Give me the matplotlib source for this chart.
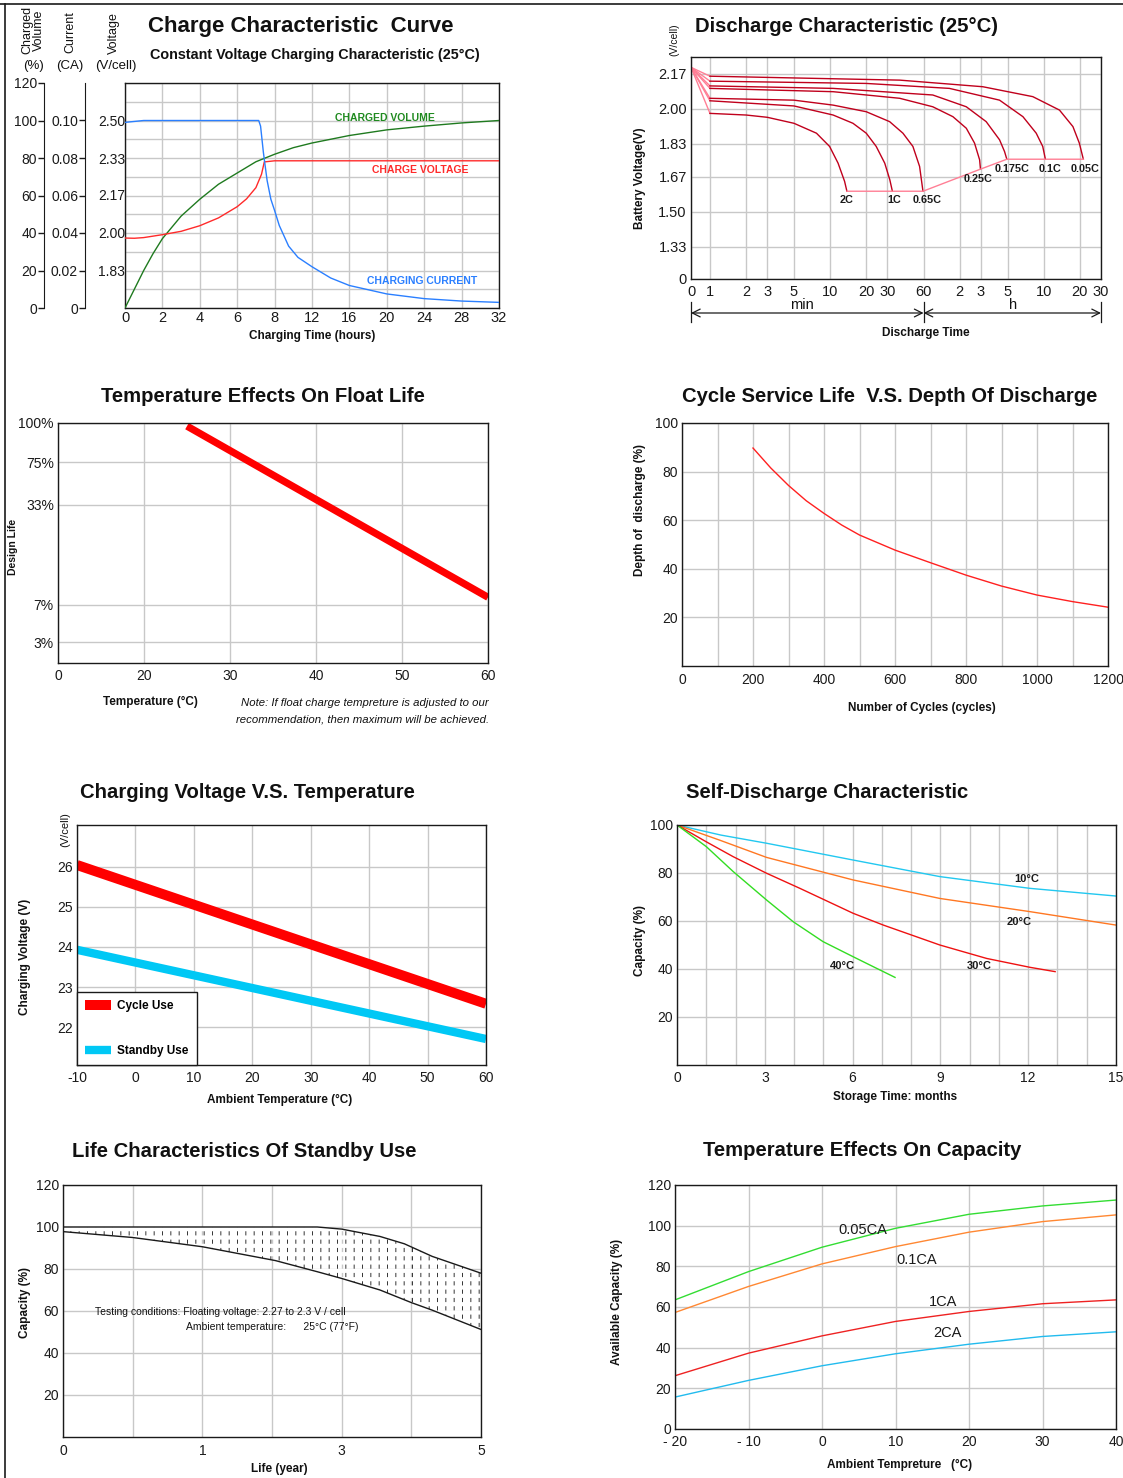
import numpy as np
import matplotlib
matplotlib.use('Agg')
import matplotlib.pyplot as plt
from matplotlib.lines import Line2D

W, H = 1123, 1478
FONTS = ['Liberation Sans', 'DejaVu Sans']
plt.rcParams['font.family'] = FONTS
plt.rcParams['axes.unicode_minus'] = False
plt.rcParams['hatch.linewidth'] = 0.7

# ---------------- data ----------------
# 1. Charge characteristic
charge_hour_ticks = [0, 2, 4, 6, 8, 12, 16, 20, 24, 28, 32]
vol_hours = [0, 0.5, 1, 1.5, 2, 3, 4, 5, 6, 7, 8, 10, 12, 16, 20, 24, 28, 32]
vol_pct = [0, 10, 20, 29, 37, 49, 58, 66, 72, 78, 82, 85.5, 88, 92, 95, 97, 98.7, 100]
volt_hours = [0, 0.5, 1, 2, 3, 4, 5, 6, 6.5, 7, 7.3, 7.45, 8, 32]
volts = [1.975, 1.974, 1.977, 1.99, 2.005, 2.03, 2.065, 2.115, 2.15, 2.2, 2.26, 2.315, 2.32, 2.32]
curr_hours = [0, 1, 7.15, 7.25, 7.4, 7.6, 7.8, 8, 8.5, 9.5, 10.5, 12, 14, 16, 20, 24, 28, 32]
current = [0.099, 0.1, 0.1, 0.097, 0.083, 0.068, 0.058, 0.052, 0.044, 0.033, 0.027, 0.022,
           0.016, 0.012, 0.0075, 0.005, 0.0037, 0.003]
pct_ticks = [0, 20, 40, 60, 80, 100, 120]
ca_ticks = [0, 0.02, 0.04, 0.06, 0.08, 0.10]
ca_labels = ['0', '0.02', '0.04', '0.06', '0.08', '0.10']
volt_ticks = [1.83, 2.00, 2.17, 2.33, 2.50]

# 2. Discharge characteristic (time in minutes)
rates = ['2C', '1C', '0.65C', '0.25C', '0.175C', '0.1C', '0.05C']
t_2C = [0, 1, 2, 3, 5, 7.7, 9.9, 11.65, 13.2, 13.8]
v_2C = [2.20, 1.977, 1.969, 1.958, 1.929, 1.881, 1.817, 1.736, 1.648, 1.60]
t_1C = [0, 1, 5, 10.6, 15.5, 20, 24.2, 28.5, 31.4, 33]
v_1C = [2.20, 2.038, 2.013, 1.969, 1.929, 1.881, 1.817, 1.736, 1.656, 1.60]
t_065C = [0, 1, 5, 10.6, 20, 31.3, 40.4, 48.9, 55.6, 59.3]
v_065C = [2.20, 2.05, 2.041, 2.017, 1.985, 1.937, 1.881, 1.817, 1.72, 1.60]
t_025C = [0, 1, 10.6, 38, 71.6, 105.3, 136.1, 159.4, 175.7, 178.6]
v_025C = [2.20, 2.098, 2.082, 2.05, 2.009, 1.961, 1.905, 1.833, 1.752, 1.707]
t_0175C = [0, 1, 10.6, 71.6, 136.1, 199.2, 257.5, 283.4, 296]
v_0175C = [2.20, 2.11, 2.098, 2.066, 2.009, 1.937, 1.849, 1.792, 1.755]
t_01C = [0, 1, 20, 98.5, 257.5, 403, 520, 589, 620]
v_01C = [2.20, 2.133, 2.122, 2.098, 2.041, 1.961, 1.881, 1.817, 1.755]
t_005C = [0, 1, 38, 187, 487, 812, 1051, 1188, 1283]
v_005C = [2.20, 2.157, 2.138, 2.106, 2.058, 1.993, 1.913, 1.833, 1.755]
dis_time_ticks = [0, 1, 2, 3, 5, 10, 20, 30, 60, 120, 180, 300, 600, 1200, 1800]
dis_time_labels = ['0', '1', '2', '3', '5', '10', '20', '30', '60', '2', '3', '5', '10', '20', '30']
dis_volt_ticks = [1.175, 1.33, 1.50, 1.67, 1.83, 2.00, 2.17]
dis_volt_labels = ['0', '1.33', '1.50', '1.67', '1.83', '2.00', '2.17']

# 3. Float life vs temperature
float_temp = [25, 60]
float_life = [98, 9]
float_temp_ticks = [10, 20, 30, 40, 50, 60]
float_temp_labels = ['0', '20', '30', '40', '50', '60']
float_life_ticks = [3, 7, 33, 75, 100]
float_life_labels = ['3%', '7%', '33%', '75%', '100%']

# 4. Cycle life vs DOD
cycles = [200, 250, 300, 350, 400, 450, 500, 600, 700, 800, 900, 1000, 1100, 1200]
dod = [89.7, 81.5, 74.3, 68, 62.8, 58, 53.9, 47.7, 42.5, 37.4, 32.9, 29.2, 26.5, 24.2]

# 5. Charging voltage vs temperature
cv_temp = [-10, 60]
cycle_use = [26.05, 22.58]
standby_use = [23.93, 21.70]

# 6. Self-discharge
m_10 = [0, 1.5, 3.06, 6.02, 8.98, 12.06, 15]
c_10 = [100, 95.8, 92.4, 85.4, 78.5, 73.6, 70.4]
m_20 = [0, 1.5, 3.06, 6.02, 8.98, 12.06, 15]
c_20 = [100, 93.5, 86.5, 77.1, 69.4, 63.9, 58.3]
m_30 = [0, 1.0, 1.92, 3.06, 4.2, 6.02, 7.05, 8.98, 10.58, 12.06, 12.92]
c_30 = [100, 93, 86.8, 79.9, 73.6, 63.2, 58.3, 50, 44.4, 40.7, 38.9]
m_40 = [0, 1.0, 1.92, 3.06, 3.97, 4.99, 6.02, 6.7, 7.45]
c_40 = [100, 91, 80.6, 68.75, 59.7, 51.4, 45.1, 41, 36.5]

# 7. Standby life
upper_years = [0, 2.65, 3.0, 3.55, 3.9, 4.3, 5]
upper_cap = [100, 100, 99, 95.5, 92, 86, 78]
lower_years = [0, 0.5, 1, 2.05, 2.65, 3.0, 3.55, 4.0, 4.3, 5]
lower_cap = [97.8, 95, 90.6, 84, 78.7, 75.5, 70, 64, 60.4, 51.2]
life_year_ticks = [0, 1, 3, 5]

# 8. Temperature effects on capacity
cap_temp = [-20, -10, 0, 10, 20, 30, 40]
cap_005CA = [63.5, 77.4, 89.4, 98.7, 105.6, 109.7, 112.6]
cap_01CA = [57.3, 70.1, 81.2, 89.7, 96.8, 102, 105.3]
cap_1CA = [26.2, 37.3, 45.8, 52.9, 57.8, 61.6, 63.5]
cap_2CA = [15.7, 23.9, 31.1, 37, 41.7, 45.5, 47.8]
cap_temp_labels = ['- 20', '- 10', '0', '10', '20', '30', '40']

# ---------------- figure ----------------
fig = plt.figure(figsize=(W / 100, H / 100), dpi=100)
fig.patch.set_facecolor('white')

def axes_px(x0, y0, x1, y1):
    return fig.add_axes([x0 / W, 1 - y1 / H, (x1 - x0) / W, (y1 - y0) / H])

def text_px(x, y, s, **kw):
    kw.setdefault('color', '#111111')
    return fig.text(x / W, 1 - y / H, s, **kw)

GRID = '#c8c8c8'
TICKFS = 10
LABFS = 8.5
TITLEFS = 14.6
INK = '#1a1a1a'

def base(ax):
    for sp in ax.spines.values():
        sp.set_linewidth(1.0)
        sp.set_color(INK)
    ax.tick_params(which='both', length=0, labelsize=TICKFS, pad=3, colors=INK)
    ax.grid(True, which='both', color=GRID, lw=1.0)
    ax.set_axisbelow(True)

def title(x, y, s, ha='center', size=TITLEFS):
    text_px(x, y, s, ha=ha, va='baseline', fontsize=size, fontweight='bold')

def xlab(x, y, s, size=LABFS):
    text_px(x, y, s, ha='center', va='center', fontsize=size, fontweight='bold')

def ylab(x, y, s, size=LABFS):
    text_px(x, y, s, ha='center', va='center', fontsize=size, fontweight='bold', rotation=90)

# frame
fig.add_artist(Line2D([5 / W, 5 / W], [0, 1 - 4 / H], color=INK, lw=1.2, transform=fig.transFigure))
fig.add_artist(Line2D([0, 1], [1 - 4 / H, 1 - 4 / H], color=INK, lw=1.2, transform=fig.transFigure))

# ===== Panel 1: Charge characteristic =====
def f_hours(h):
    h = np.asarray(h, float)
    return np.where(h <= 8, h / 2, 4 + (h - 8) / 4)

def i_hours(p):
    p = np.asarray(p, float)
    return np.where(p <= 4, 2 * p, 8 + 4 * (p - 4))

V_PER_PCT = 0.1675 / 20
V_LO = 1.83 - 20 * V_PER_PCT
V_HI = 1.83 + 100 * V_PER_PCT

ax1 = axes_px(125, 83, 499, 308)
base(ax1)
ax1.set_xscale('function', functions=(f_hours, i_hours))
ax1.set_xlim(0, 32)
ax1.set_xticks(charge_hour_ticks)
ax1.set_xticklabels([str(h) for h in charge_hour_ticks])
ax1.set_ylim(0, 120)
ax1.set_yticks(np.arange(0, 121, 10))
ax1.tick_params(axis='y', labelleft=False)
ax1.tick_params(axis='x', pad=2, labelsize=10.5)
ax1.plot(vol_hours, vol_pct, color='#1f7a1f', lw=1.0, zorder=3)

axV = ax1.twinx()
axV.set_ylim(V_LO, V_HI)
for sp in axV.spines.values():
    sp.set_visible(False)
axV.yaxis.tick_left()
axV.set_yticks(volt_ticks)
axV.set_yticklabels(['%.2f' % v for v in volt_ticks])
axV.tick_params(length=0, pad=0, labelsize=TICKFS, colors=INK)
axV.plot(volt_hours, volts, color='#ff2a2a', lw=1.0)

axC = ax1.twinx()
axC.set_ylim(0, 0.12)
for k, sp in axC.spines.items():
    sp.set_visible(k == 'left')
axC.spines['left'].set_position(('axes', (85 - 125) / 374))
axC.spines['left'].set_color(INK)
axC.yaxis.tick_left()
axC.set_yticks(ca_ticks)
axC.set_yticklabels(ca_labels)
axC.tick_params(direction='out', length=4, width=1, pad=1, labelsize=TICKFS, colors=INK)
axC.plot(curr_hours, current, color='#2a7fff', lw=1.0)

axP = ax1.twinx()
axP.set_ylim(0, 120)
for k, sp in axP.spines.items():
    sp.set_visible(k == 'left')
axP.spines['left'].set_position(('axes', (44 - 125) / 374))
axP.spines['left'].set_color(INK)
axP.yaxis.tick_left()
axP.set_yticks(pct_ticks)
axP.tick_params(direction='out', length=4, width=1, pad=1, labelsize=TICKFS, colors=INK)

text_px(385, 118, 'CHARGED VOLUME', color='#1f8a1f', fontsize=7.5, fontweight='bold', ha='center', va='center')
text_px(420, 170, 'CHARGE VOLTAGE', color='#ff2a2a', fontsize=7.5, fontweight='bold', ha='center', va='center')
text_px(422, 281, 'CHARGING CURRENT', color='#2a7fff', fontsize=7.5, fontweight='bold', ha='center', va='center')

text_px(33, 30, 'Charged\nVolume', rotation=90, fontsize=9, ha='center', va='center', linespacing=0.95)
text_px(33, 66, '(%)', fontsize=9.5, ha='center', va='center')
text_px(70, 32, 'Current', rotation=90, fontsize=9, ha='center', va='center')
text_px(70, 66, '(CA)', fontsize=9.5, ha='center', va='center')
text_px(114, 33, 'Voltage', rotation=90, fontsize=9, ha='center', va='center')
text_px(116, 66, '(V/cell)', fontsize=9.5, ha='center', va='center')

title(148, 32, 'Charge Characteristic  Curve', ha='left', size=16)
title(150, 59, 'Constant Voltage Charging Characteristic (25°C)', ha='left', size=10.4)
xlab(312, 336, 'Charging Time (hours)')

# ===== Panel 2: Discharge characteristic =====
def f_time(t):
    t = np.asarray(t, float)
    return np.where(t >= 1, np.log10(np.maximum(t, 1.0)), 0.158 * (t - 1))

def i_time(p):
    p = np.asarray(p, float)
    return np.where(p >= 0, 10 ** np.maximum(p, 0), p / 0.158 + 1)

ax2 = axes_px(691, 57, 1101, 279)
base(ax2)
ax2.set_xscale('function', functions=(f_time, i_time))
ax2.set_xlim(0, 1800)
ax2.set_ylim(1.175, 2.25)
ax2.set_xticks(dis_time_ticks)
ax2.set_xticklabels(dis_time_labels)
ax2.set_yticks(dis_volt_ticks)
ax2.set_yticklabels(dis_volt_labels)
ax2.tick_params(axis='x', pad=4, labelsize=10.5)
ax2.tick_params(axis='y', labelsize=10.5)

DARK = '#c0001c'
PINK = '#ff7f95'
series = [(t_2C, v_2C), (t_1C, v_1C), (t_065C, v_065C), (t_025C, v_025C),
          (t_0175C, v_0175C), (t_01C, v_01C), (t_005C, v_005C)]
ends_t, ends_v = [], []
for (t, v) in series:
    ax2.plot(t[:2], v[:2], color=PINK, lw=1.0)
    ax2.plot(t[1:], v[1:], color=DARK, lw=1.0)
    ends_t.append(t[-1])
    ends_v.append(v[-1])
ax2.plot(ends_t, ends_v, color=PINK, lw=1.0)
label_off = [(0, -6.5), (1.5, -6.5), (3, -6.5), (-2, -7), (3.5, -7), (3.5, -7), (1.5, -7)]
for name, et, ev, off in zip(rates, ends_t, ends_v, label_off):
    ax2.annotate(name, (et, ev), xytext=off, textcoords='offset points', ha='center', va='center',
                 fontsize=7.8, fontweight='bold', color=INK)

# time-range arrows
xt = ax2.get_xaxis_transform()
ya = (279 - 313) / (279 - 57)
yb0 = (279 - 302) / (279 - 57)
yb1 = (279 - 322) / (279 - 57)
ax2.annotate('', xy=(0, ya), xytext=(60, ya), xycoords=xt, textcoords=xt,
             arrowprops=dict(arrowstyle='<->', lw=0.9, color=INK, shrinkA=0, shrinkB=0,
                             mutation_scale=14), annotation_clip=False)
ax2.annotate('', xy=(60, ya), xytext=(1800, ya), xycoords=xt, textcoords=xt,
             arrowprops=dict(arrowstyle='<->', lw=0.9, color=INK, shrinkA=0, shrinkB=0,
                             mutation_scale=14), annotation_clip=False)
for tt in (0, 60, 1800):
    ax2.plot([tt, tt], [yb0, yb1], transform=xt, color=INK, lw=0.9, clip_on=False)
text_px(802, 305, 'min', fontsize=10.5, ha='center', va='center')
text_px(1013, 305, 'h', fontsize=10.5, ha='center', va='center')
xlab(926, 333, 'Discharge Time')
ylab(640, 178, 'Battery Voltage(V)')
text_px(674, 40, '(V/cell)', rotation=90, fontsize=7.5, ha='center', va='center')
title(695, 32, 'Discharge Characteristic (25°C)', ha='left')

# ===== Panel 3: Float life =====
LIFE_V = [0, 3, 7, 33, 75, 100]
LIFE_P = [0, 21, 58, 158, 201, 240]

def f_life(v):
    return np.interp(np.asarray(v, float), LIFE_V, LIFE_P)

def i_life(p):
    return np.interp(np.asarray(p, float), LIFE_P, LIFE_V)

ax3 = axes_px(58, 423, 488, 663)
base(ax3)
ax3.set_yscale('function', functions=(f_life, i_life))
ax3.set_xlim(10, 60)
ax3.set_ylim(0, 100)
ax3.set_xticks(float_temp_ticks)
ax3.set_xticklabels(float_temp_labels)
ax3.set_yticks(float_life_ticks)
ax3.set_yticklabels(float_life_labels)
ax3.tick_params(axis='x', pad=4)
ax3.plot(float_temp, float_life, color='#ff0000', lw=5.2, solid_capstyle='butt')
title(263, 402, 'Temperature Effects On Float Life')
ylab(13, 547, 'Design Life', size=7.5)
xlab(150, 702, 'Temperature (°C)')
text_px(489, 703, 'Note: If float charge tempreture is adjusted to our', fontsize=8.2, style='italic',
        ha='right', va='center')
text_px(489, 719, 'recommendation, then maximum will be achieved.', fontsize=8.2, style='italic',
        ha='right', va='center')

# ===== Panel 4: Cycle life =====
ax4 = axes_px(682, 423, 1108, 666)
base(ax4)
ax4.set_xlim(0, 1200)
ax4.set_ylim(0, 100)
ax4.set_xticks(np.arange(0, 1201, 200))
ax4.set_xticks(np.arange(100, 1200, 200), minor=True)
ax4.set_yticks([20, 40, 60, 80, 100])
ax4.tick_params(axis='x', pad=5)
ax4.plot(cycles, dod, color='#ff2020', lw=1.0)
title(890, 402, 'Cycle Service Life  V.S. Depth Of Discharge')
ylab(640, 510, 'Depth of  discharge (%)')
xlab(922, 708, 'Number of Cycles (cycles)')

# ===== Panel 5: Charging voltage vs temperature =====
ax5 = axes_px(77, 825, 486, 1065)
base(ax5)
ax5.set_xlim(-10, 60)
ax5.set_ylim(21.05, 27.05)
ax5.set_xticks(np.arange(-10, 61, 10))
ax5.set_yticks([22, 23, 24, 25, 26])
ax5.set_yticklabels(['22', '23', '24', '25', '26'])
ax5.tick_params(axis='x', pad=4)
l_cyc, = ax5.plot(cv_temp, cycle_use, color='#ff0000', lw=7.2, solid_capstyle='butt', label='Cycle Use')
l_sby, = ax5.plot(cv_temp, standby_use, color='#00c8f5', lw=6.0, solid_capstyle='butt', label='Standby Use')
leg = ax5.legend(handles=[l_cyc, l_sby], loc='lower left', bbox_to_anchor=(0, 0), borderaxespad=0,
                 fancybox=False, framealpha=1, edgecolor=INK, prop={'size': 8.5, 'weight': 'bold'},
                 handlelength=2.2, handletextpad=0.5, labelspacing=2.75, borderpad=0.7)
leg.get_frame().set_linewidth(1.0)
title(247, 798, 'Charging Voltage V.S. Temperature')
text_px(65, 830, '(V/cell)', rotation=90, fontsize=8, ha='center', va='center')
ylab(25, 957, 'Charging Voltage (V)')
xlab(280, 1100, 'Ambient Temperature (°C)')

# ===== Panel 6: Self-discharge =====
ax6 = axes_px(677, 825, 1116, 1065)
base(ax6)
ax6.set_xlim(0, 15)
ax6.set_ylim(0, 100)
ax6.set_xticks([0, 3, 6, 9, 12, 15])
ax6.set_xticks([m for m in range(16) if m % 3], minor=True)
ax6.set_yticks([20, 40, 60, 80, 100])
ax6.tick_params(axis='x', pad=4)
ax6.plot(m_10, c_10, color='#22c8f0', lw=1.0)
ax6.plot(m_20, c_20, color='#ff7722', lw=1.0)
ax6.plot(m_30, c_30, color='#ee1111', lw=1.0)
ax6.plot(m_40, c_40, color='#33dd22', lw=1.0)
for s, x, y in [('10°C', 11.96, 77.5), ('20°C', 11.68, 59.6), ('30°C', 10.32, 41.3), ('40°C', 5.64, 41.3)]:
    ax6.text(x, y, s, fontsize=8, fontweight='bold', ha='center', va='center', color=INK)
title(827, 798, 'Self-Discharge Characteristic')
ylab(640, 940, 'Capacity (%)')
xlab(895, 1097, 'Storage Time: months')

# ===== Panel 7: Standby life =====
LY = [0, 1, 3, 5]
LP = [0, 2, 4, 6]

def f_year(y):
    return np.interp(np.asarray(y, float), LY, LP)

def i_year(p):
    return np.interp(np.asarray(p, float), LP, LY)

ax7 = axes_px(63, 1185, 481, 1437)
base(ax7)
ax7.set_xscale('function', functions=(f_year, i_year))
ax7.set_xlim(0, 5)
ax7.set_ylim(0, 120)
ax7.set_xticks(life_year_ticks)
ax7.set_xticks([0.5, 2, 4], minor=True)
ax7.set_yticks([20, 40, 60, 80, 100, 120])
ax7.tick_params(axis='x', pad=5)
grid_years = np.union1d(upper_years, lower_years)
up_i = np.interp(grid_years, upper_years, upper_cap)
lo_i = np.interp(grid_years, lower_years, lower_cap)
with plt.rc_context({'hatch.linewidth': 0.7}):
    ax7.fill_between(grid_years, lo_i, up_i, facecolor='none', edgecolor='#333333', linewidth=0,
                     hatch='||')
with plt.rc_context({'hatch.linewidth': 3.0}):
    ax7.fill_between(grid_years, lo_i, up_i, facecolor='none', edgecolor='white', linewidth=0,
                     hatch='--')
ax7.plot(upper_years, upper_cap, color=INK, lw=1.0)
ax7.plot(lower_years, lower_cap, color=INK, lw=1.0)
text_px(220, 1312, 'Testing conditions: Floating voltage: 2.27 to 2.3 V / cell', fontsize=7.5,
        ha='center', va='center')
text_px(272, 1327, 'Ambient temperature:      25°C (77°F)', fontsize=7.5, ha='center', va='center')
title(244, 1157, 'Life Characteristics Of Standby Use')
ylab(25, 1303, 'Capacity (%)')
xlab(279, 1469, 'Life (year)')

# ===== Panel 8: Temperature effects on capacity =====
ax8 = axes_px(675, 1185, 1116, 1429)
base(ax8)
ax8.set_xlim(-20, 40)
ax8.set_ylim(0, 120)
ax8.set_xticks(cap_temp)
ax8.set_xticklabels(cap_temp_labels)
ax8.set_yticks([0, 20, 40, 60, 80, 100, 120])
ax8.tick_params(axis='x', pad=4)
ax8.plot(cap_temp, cap_005CA, color='#33dd33', lw=1.0)
ax8.plot(cap_temp, cap_01CA, color='#ff8833', lw=1.0)
ax8.plot(cap_temp, cap_1CA, color='#ee2222', lw=1.0)
ax8.plot(cap_temp, cap_2CA, color='#22bbee', lw=1.0)
for s, x, y in [('0.05CA', 5.6, 97.9), ('0.1CA', 12.9, 83.1), ('1CA', 16.5, 62.5), ('2CA', 17.1, 47.2)]:
    ax8.text(x, y, s, fontsize=10.5, ha='center', va='center', color=INK)
title(862, 1156, 'Temperature Effects On Capacity')
ylab(617, 1302, 'Available Capacity (%)')
xlab(900, 1465, 'Ambient Tempreture   (°C)')

fig.savefig('out.png', dpi=100, facecolor='white')
